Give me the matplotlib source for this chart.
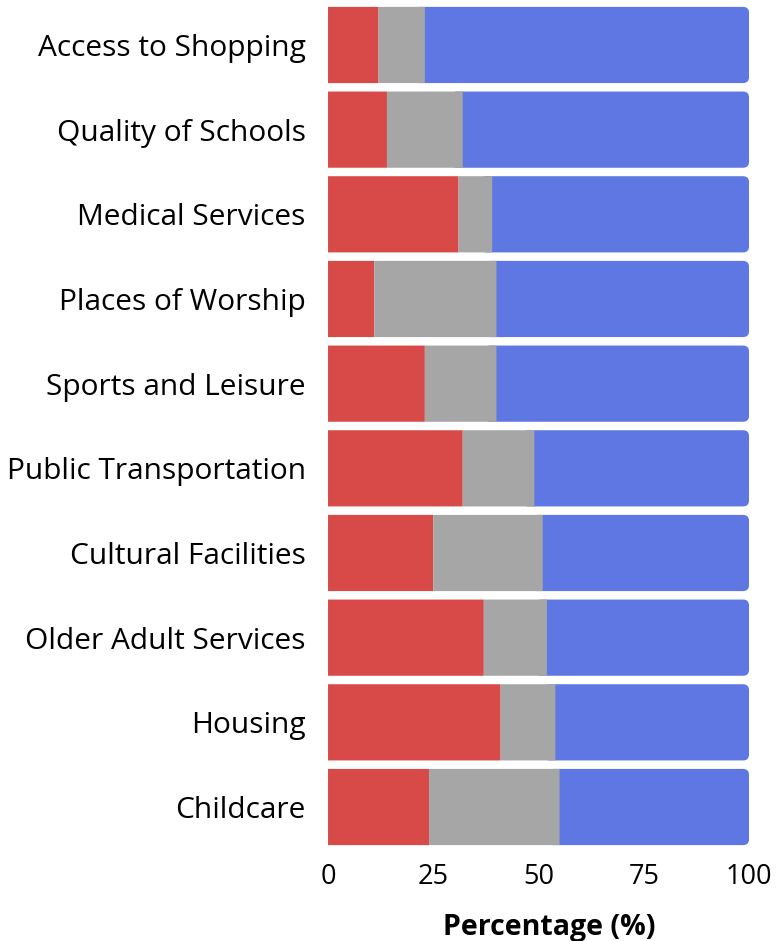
import matplotlib.pyplot as plt
from matplotlib.patches import FancyBboxPatch

plt.rcParams['font.family'] = ['Open Sans', 'DejaVu Sans']

categories = ["Access to Shopping", "Quality of Schools", "Medical Services",
              "Places of Worship", "Sports and Leisure", "Public Transportation",
              "Cultural Facilities", "Older Adult Services", "Housing", "Childcare"]
red_vals = [12, 14, 31, 11, 23, 32, 25, 37, 41, 24]
gray_vals = [11, 18, 8, 29, 17, 17, 26, 15, 13, 31]
blue_vals = [100 - r - g for r, g in zip(red_vals, gray_vals)]
xticks = [0, 25, 50, 75, 100]

RED = "#d84a48"
GRAY = "#a6a6a6"
BLUE = "#5f77e2"

fig = plt.figure(figsize=(7.84, 9.41), dpi=100)
ax = fig.add_axes([0.4184, 0.0974, 0.5370, 0.8998])

y = list(range(len(categories)))
left_gray = red_vals
left_blue = [r + g for r, g in zip(red_vals, gray_vals)]

ax.barh(y, red_vals, height=0.9, color=RED, zorder=3, snap=False)
ax.barh(y, gray_vals, left=left_gray, height=0.9, color=GRAY, zorder=3, snap=False)
blue = ax.barh(y, blue_vals, left=left_blue, height=0.9, color=BLUE, zorder=2)

ax.set_xlim(0, 100)
ax.set_ylim(len(categories) - 0.5, -0.5)

# rounded right ends for the blue segment (6 px radius)
px_x = 100 / (0.5370 * 784)
px_y = len(categories) / (0.8998 * 941)
rad = 6 * px_x
for p in blue.patches:
    x0, y0 = p.get_x(), p.get_y()
    w, h = p.get_width(), p.get_height()
    rb = FancyBboxPatch((x0 - 2 * rad, y0), w + 2 * rad, h,
                        boxstyle=f"round,pad=0,rounding_size={rad}",
                        mutation_aspect=px_y / px_x,
                        facecolor=BLUE, edgecolor="none", zorder=2, snap=False)
    ax.add_patch(rb)
    p.set_visible(False)

ax.set_yticks(y)
ax.set_yticklabels(categories)
ax.set_xticks(xticks)
ax.set_xticklabels([str(t) for t in xticks])
ax.tick_params(axis="both", length=0, colors="black")
ax.tick_params(axis="y", pad=16, labelsize=21.5)
ax.tick_params(axis="x", pad=10, labelsize=19.5)

for s in ax.spines.values():
    s.set_visible(False)

ax.set_xlabel("Percentage (%)", fontsize=20.5, fontweight="bold")
ax.xaxis.set_label_coords(0.525, -0.075)

fig.savefig("out.png", dpi=100)
